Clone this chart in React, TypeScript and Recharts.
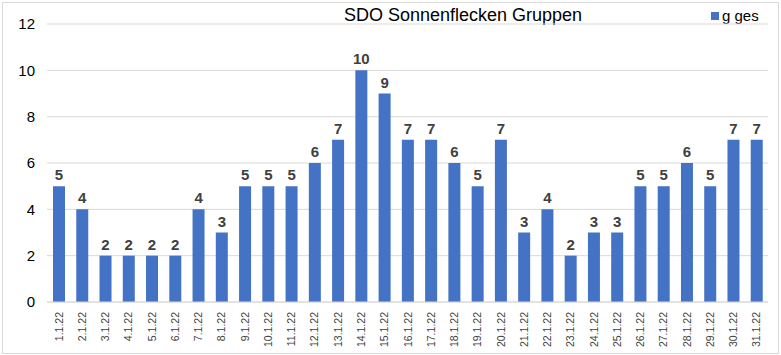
import { Bar, BarChart, CartesianGrid, LabelList, XAxis, YAxis } from "recharts";

const DAYS = [
  "1.1.22", "2.1.22", "3.1.22", "4.1.22", "5.1.22", "6.1.22", "7.1.22", "8.1.22",
  "9.1.22", "10.1.22", "11.1.22", "12.1.22", "13.1.22", "14.1.22", "15.1.22", "16.1.22",
  "17.1.22", "18.1.22", "19.1.22", "20.1.22", "21.1.22", "22.1.22", "23.1.22", "24.1.22",
  "25.1.22", "26.1.22", "27.1.22", "28.1.22", "29.1.22", "30.1.22", "31.1.22",
];
const G_GES = [5, 4, 2, 2, 2, 2, 4, 3, 5, 5, 5, 6, 7, 10, 9, 7, 7, 6, 5, 7, 3, 4, 2, 3, 3, 5, 5, 6, 5, 7, 7];
const Y_TICKS = [0, 2, 4, 6, 8, 10, 12];

const BLUE = "#4472c4";
const FONT = "'Liberation Sans', Arial, sans-serif";

const data = DAYS.map((d, i) => ({ day: d, g: G_GES[i] }));

function DayTick({ x, y, payload }: { x?: number; y?: number; payload?: { value: string } }) {
  return (
    <text
      x={x}
      y={y}
      dy={4}
      transform={`rotate(-90 ${x} ${y})`}
      dx={-2}
      textAnchor="end"
      fontSize={10.5}
      fontFamily={FONT}
      fill="#404040"
    >
      {payload?.value}
    </text>
  );
}

export default function App() {
  return (
    <div
      style={{
        position: "absolute",
        left: 0,
        top: 0,
        width: 781,
        height: 355,
        background: "#fff",
        fontFamily: FONT,
      }}
    >
      <div
        style={{
          position: "absolute",
          left: 2,
          top: 2,
          width: 775,
          height: 350,
          border: "1px solid #d9d9d9",
        }}
      />
      <div
        style={{
          position: "absolute",
          left: 0,
          width: 926,
          top: 5,
          textAlign: "center",
          fontSize: 18,
          color: "#000",
        }}
      >
        SDO Sonnenflecken Gruppen
      </div>
      <div
        style={{
          position: "absolute",
          left: 711,
          top: 7,
          fontSize: 15,
          color: "#000",
          display: "flex",
          alignItems: "center",
          gap: 3,
        }}
      >
        <span style={{ width: 8, height: 8, background: BLUE, display: "inline-block" }} />
        g ges
      </div>
      <BarChart
        width={781}
        height={355}
        data={data}
        margin={{ top: 24, right: 13, bottom: 8, left: 0 }}
        barSize={12}
      >
        <CartesianGrid vertical={false} stroke="#d9d9d9" />
        <XAxis
          dataKey="day"
          interval={0}
          height={45}
          tick={<DayTick />}
          tickLine={false}
          axisLine={{ stroke: "#d9d9d9" }}
        />
        <YAxis
          width={47}
          domain={[0, 12]}
          ticks={Y_TICKS}
          tick={{ fill: "#000", fontSize: 15, fontFamily: FONT }}
          tickMargin={6}
          axisLine={false}
          tickLine={false}
        />
        <Bar dataKey="g" fill={BLUE} isAnimationActive={false}>
          <LabelList
            dataKey="g"
            position="top"
            offset={6}
            fill="#404040"
            fontSize={15}
            fontWeight="bold"
            fontFamily={FONT}
          />
        </Bar>
      </BarChart>
    </div>
  );
}
